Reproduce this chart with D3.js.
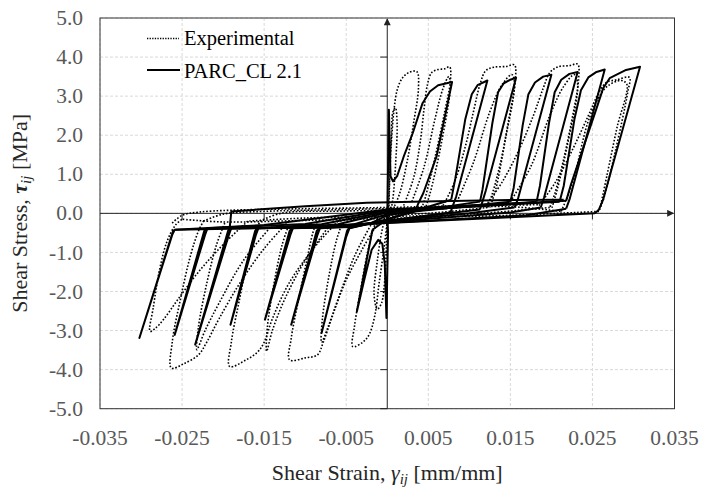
<!DOCTYPE html>
<html>
<head>
<meta charset="utf-8">
<script src="https://cdn.jsdelivr.net/npm/d3@7"></script>
<style>
  body { margin: 0; background: #fff; }
</style>
</head>
<body>
<svg id="chart" width="704" height="489" font-family="'Liberation Serif', 'Times New Roman', serif"></svg>
<script>
// axis ticks
const xTicks = [-0.035, -0.025, -0.015, -0.005, 0.005, 0.015, 0.025, 0.035];
const xTickLabels = ["-0.035", "-0.025", "-0.015", "-0.005", "0.005", "0.015", "0.025", "0.035"];
const yTicks = [-5, -4, -3, -2, -1, 0, 1, 2, 3, 4, 5];
const yTickLabels = ["-5.0", "-4.0", "-3.0", "-2.0", "-1.0", "0.0", "1.0", "2.0", "3.0", "4.0", "5.0"];

// PARC_CL 2.1 model, [strain, stress]
const modelPos = [
  [[0.0000,-0.30],[0.0002,2.65],[0.0004,0.95],[0.0007,0.82],[0.0012,0.95],[0.0020,1.45],[0.0031,2.05],[0.0043,2.82],[0.0052,3.12],[0.0062,3.28],[0.0079,3.36],[0.0060,1.45],[0.0044,0.52],[0.0038,0.26],[0.0034,0.05]],
  [[0.0078,0.35],[0.0083,0.90],[0.0095,2.40],[0.0103,3.05],[0.0110,3.28],[0.0122,3.40],[0.0084,0.43],[0.0080,0.20],[0.0077,0.02]],
  [[0.0113,0.30],[0.0116,0.60],[0.0128,2.30],[0.0135,3.10],[0.0142,3.33],[0.0150,3.42],[0.0157,3.47],[0.0120,0.58],[0.0116,0.30],[0.0113,0.10]],
  [[0.0150,0.30],[0.0154,0.65],[0.0165,2.25],[0.0172,3.05],[0.0180,3.35],[0.0190,3.50],[0.0200,3.55],[0.0159,0.35],[0.0155,0.15]],
  [[0.0182,0.30],[0.0186,0.70],[0.0197,2.30],[0.0204,3.10],[0.0212,3.42],[0.0222,3.57],[0.0232,3.62],[0.0191,0.40],[0.0187,0.15]],
  [[0.0210,0.30],[0.0215,0.70],[0.0228,2.40],[0.0236,3.15],[0.0245,3.48],[0.0255,3.62],[0.0265,3.68],[0.0222,0.35],[0.0218,0.12]],
  [[0.0218,0.32],[0.0224,0.75],[0.0256,2.75],[0.0263,3.20],[0.0271,3.46],[0.0291,3.67],[0.0308,3.75],[0.0263,0.35],[0.0258,0.10],[0.0253,0.00]]
];
const modelNeg = [
  [[0.0000,0.00],[0.0001,-0.50],[-0.0001,-2.68],[-0.0003,-1.30],[-0.0006,-0.78],[-0.0011,-0.68],[-0.0019,-0.93],[-0.0028,-1.70],[-0.0037,-2.51],[-0.0027,-1.40],[-0.0018,-0.42]],
  [[-0.0046,-0.38],[-0.0050,-0.60],[-0.0080,-3.06],[-0.0049,-0.45],[-0.0047,-0.38]],
  [[-0.0082,-0.38],[-0.0085,-0.55],[-0.0117,-2.85],[-0.0086,-0.45],[-0.0083,-0.38]],
  [[-0.0115,-0.38],[-0.0118,-0.55],[-0.0149,-2.72],[-0.0119,-0.45],[-0.0116,-0.38]],
  [[-0.0157,-0.38],[-0.0160,-0.55],[-0.0191,-2.85],[-0.0161,-0.45],[-0.0158,-0.38]],
  [[-0.0190,-0.38],[-0.0193,-0.55],[-0.0234,-3.36],[-0.0194,-0.45],[-0.0192,-0.38],[-0.0190,0.05],[-0.0100,0.18],[-0.0025,0.27],[0.0060,0.31],[0.0150,0.34],[0.0215,0.35]],
  [[-0.0219,-0.38],[-0.0222,-0.55],[-0.0259,-3.11],[-0.0223,-0.45],[-0.0220,-0.38]],
  [[-0.0258,-0.42],[-0.0261,-0.45],[-0.0302,-3.19],[-0.0262,-0.55],[-0.0259,-0.42]]
];
// reloading (rightward) and unloading (leftward) branches near zero stress
const modelReload = [
  [[-0.0047,-0.38],[-0.0020,-0.25],[0.0000,-0.05],[0.0113,0.30]],
  [[-0.0083,-0.38],[-0.0040,-0.28],[0.0000,-0.02],[0.0150,0.30]],
  [[-0.0116,-0.38],[-0.0060,-0.28],[0.0000,0.02],[0.0182,0.30]],
  [[-0.0158,-0.38],[-0.0080,-0.28],[0.0000,0.05],[0.0210,0.30]],
  [[-0.0220,-0.38],[-0.0100,-0.27],[0.0000,0.08],[0.0218,0.32]],
  [[-0.0259,-0.42],[-0.0150,-0.30],[0.0000,0.10],[0.0180,0.28]],
  [[-0.0018,-0.42],[0.0000,-0.15],[0.0078,0.35]]
];
const modelUnload = [
  [[0.0034,0.05],[0.0000,-0.15],[-0.0046,-0.38]],
  [[0.0077,0.02],[0.0000,-0.20],[-0.0040,-0.34],[-0.0082,-0.38]],
  [[0.0113,0.10],[0.0000,-0.18],[-0.0050,-0.34],[-0.0115,-0.38]],
  [[0.0155,0.15],[0.0100,0.00],[0.0000,-0.20],[-0.0060,-0.35],[-0.0157,-0.38]],
  [[0.0187,0.15],[0.0150,0.02],[0.0000,-0.22],[-0.0080,-0.36],[-0.0190,-0.38]],
  [[0.0218,0.12],[0.0170,-0.05],[0.0000,-0.24],[-0.0100,-0.37],[-0.0219,-0.38]],
  [[0.0253,0.00],[0.0150,-0.10],[0.0000,-0.25],[-0.0150,-0.38],[-0.0258,-0.42]]
];

// Experimental, [strain, stress]
const testPos = [
  [[0.0001,-0.20],[0.0003,1.00],[0.0005,2.00],[0.0007,2.60],[0.0010,2.70],[0.0012,2.30],[0.0010,1.20],[0.0007,0.40],[0.0004,0.00]],
  [[0.0002,0.10],[0.0003,0.90],[0.0005,1.80],[0.0008,2.60],[0.0012,3.15],[0.0018,3.45],[0.0026,3.60],[0.0036,3.63],[0.0038,3.20],[0.0032,2.30],[0.0024,1.30],[0.0015,0.50],[0.0008,0.15]],
  [[0.0020,0.20],[0.0032,0.90],[0.0040,1.80],[0.0045,2.70],[0.0049,3.30],[0.0054,3.60],[0.0062,3.68],[0.0070,3.70],[0.0076,3.75],[0.0077,3.40],[0.0070,2.60],[0.0060,1.60],[0.0050,0.70],[0.0043,0.20],[0.0038,0.05]],
  [[0.0030,0.30],[0.0045,1.20],[0.0058,2.40],[0.0068,3.20],[0.0075,3.50],[0.0077,3.30],[0.0066,1.80],[0.0052,0.50],[0.0046,0.10]],
  [[0.0068,0.20],[0.0082,0.80],[0.0095,1.70],[0.0105,2.60],[0.0113,3.30],[0.0120,3.65],[0.0130,3.74],[0.0145,3.76],[0.0155,3.80],[0.0156,3.40],[0.0148,2.40],[0.0138,1.30],[0.0128,0.50],[0.0122,0.15]],
  [[0.0085,0.30],[0.0105,1.30],[0.0125,2.60],[0.0140,3.30],[0.0152,3.55],[0.0155,3.30],[0.0144,1.90],[0.0132,0.60],[0.0125,0.15]],
  [[0.0120,0.20],[0.0140,0.80],[0.0160,1.60],[0.0178,2.50],[0.0190,3.20],[0.0198,3.60],[0.0208,3.75],[0.0222,3.78],[0.0232,3.82],[0.0233,3.40],[0.0225,2.40],[0.0214,1.30],[0.0204,0.50],[0.0198,0.15]],
  [[0.0150,0.30],[0.0175,1.20],[0.0198,2.50],[0.0215,3.25],[0.0228,3.55],[0.0232,3.30],[0.0220,1.80],[0.0207,0.60],[0.0200,0.10]],
  [[0.0185,0.20],[0.0205,0.80],[0.0225,1.60],[0.0245,2.50],[0.0258,3.10],[0.0267,3.35],[0.0280,3.42],[0.0295,3.48],[0.0293,3.10],[0.0278,1.60],[0.0264,0.40],[0.0258,0.05]],
  [[0.0212,0.05],[0.0226,0.80],[0.0244,2.30],[0.0256,2.90],[0.0268,3.25],[0.0285,3.40],[0.0292,3.30],[0.0280,2.20],[0.0268,1.00],[0.0260,0.20]]
];
const testNeg = [
  [[0.0000,0.00],[-0.0001,-0.80],[-0.0003,-1.70],[-0.0007,-2.30],[-0.0012,-2.45],[-0.0016,-2.10],[-0.0012,-1.20],[-0.0006,-0.40],[-0.0002,-0.10]],
  [[0.0000,-0.20],[-0.0004,-0.90],[-0.0010,-1.80],[-0.0015,-2.60],[-0.0022,-3.10],[-0.0030,-3.30],[-0.0042,-3.41],[-0.0040,-2.90],[-0.0032,-1.90],[-0.0024,-1.00],[-0.0017,-0.40],[-0.0012,-0.15]],
  [[-0.0020,-0.30],[-0.0040,-1.10],[-0.0060,-2.20],[-0.0072,-2.90],[-0.0080,-3.30],[-0.0079,-2.70],[-0.0071,-1.60],[-0.0062,-0.70],[-0.0055,-0.25]],
  [[-0.0010,-0.20],[-0.0030,-0.90],[-0.0052,-1.80],[-0.0068,-2.70],[-0.0078,-3.30],[-0.0085,-3.62],[-0.0100,-3.70],[-0.0119,-3.75],[-0.0117,-3.20],[-0.0108,-2.20],[-0.0098,-1.20],[-0.0090,-0.45],[-0.0085,-0.20]],
  [[-0.0070,-0.30],[-0.0100,-1.20],[-0.0125,-2.20],[-0.0140,-3.00],[-0.0147,-3.53],[-0.0146,-2.90],[-0.0138,-1.80],[-0.0128,-0.80],[-0.0120,-0.30]],
  [[-0.0060,-0.20],[-0.0090,-0.90],[-0.0120,-1.80],[-0.0140,-2.70],[-0.0150,-3.30],[-0.0158,-3.55],[-0.0172,-3.75],[-0.0192,-3.92],[-0.0190,-3.30],[-0.0180,-2.20],[-0.0170,-1.20],[-0.0160,-0.45],[-0.0155,-0.20]],
  [[-0.0140,-0.30],[-0.0175,-1.20],[-0.0205,-2.30],[-0.0222,-3.00],[-0.0232,-3.49],[-0.0230,-2.90],[-0.0220,-1.80],[-0.0208,-0.80],[-0.0198,-0.25]],
  [[-0.0120,-0.20],[-0.0150,-0.90],[-0.0180,-1.80],[-0.0205,-2.70],[-0.0220,-3.30],[-0.0230,-3.62],[-0.0248,-3.85],[-0.0263,-3.96],[-0.0262,-3.30],[-0.0252,-2.20],[-0.0240,-1.10],[-0.0230,-0.45],[-0.0224,-0.20]],
  [[-0.0170,-0.20],[-0.0200,-0.80],[-0.0230,-1.50],[-0.0255,-2.20],[-0.0272,-2.70],[-0.0283,-2.95],[-0.0289,-3.02],[-0.0285,-2.40],[-0.0277,-1.40],[-0.0268,-0.70],[-0.0258,-0.30],[-0.0250,-0.15]]
];
const testBand = [
  [[-0.0262,-0.25],[-0.0250,-0.05],[-0.0230,0.03],[-0.0190,0.08],[-0.0100,0.12],[0.0000,0.15],[0.0100,0.20],[0.0185,0.22]],
  [[-0.0224,-0.20],[-0.0200,-0.02],[-0.0150,0.05],[-0.0050,0.10],[0.0050,0.14],[0.0150,0.17],[0.0212,0.05]],
  [[-0.0155,-0.20],[-0.0130,0.00],[-0.0050,0.06],[0.0050,0.10],[0.0120,0.20]],
  [[0.0258,0.05],[0.0150,-0.05],[0.0050,-0.10],[0.0000,-0.13],[-0.0100,-0.18],[-0.0200,-0.22],[-0.0250,-0.15]],
  [[0.0198,0.15],[0.0100,-0.02],[0.0000,-0.08],[-0.0100,-0.12],[-0.0170,-0.20]],
  [[0.0122,0.15],[0.0050,0.00],[0.0000,-0.05],[-0.0060,-0.20]]
];

const W = 704, H = 489;
const plot = { left: 100, right: 674.5, top: 18, bottom: 408.7 };

const svg = d3.select("#chart");
const x = d3.scaleLinear().domain([-0.035, 0.035]).range([plot.left, plot.right]);
const y = d3.scaleLinear().domain([-5, 5]).range([plot.bottom, plot.top]);

const defs = svg.append("defs");
defs.append("clipPath").attr("id", "clip")
  .append("rect")
  .attr("x", plot.left).attr("y", plot.top)
  .attr("width", plot.right - plot.left).attr("height", plot.bottom - plot.top);
defs.append("marker").attr("id", "arrow")
  .attr("viewBox", "0 0 10 10").attr("refX", 9).attr("refY", 5)
  .attr("markerWidth", 8).attr("markerHeight", 7).attr("markerUnits", "userSpaceOnUse")
  .attr("orient", "auto")
  .append("path").attr("d", "M0,0 L10,5 L0,10 Z").attr("fill", "#222");

// gridlines
const grid = svg.append("g");
grid.selectAll(".gx").data(xTicks).join("line")
  .attr("x1", d => x(d)).attr("x2", d => x(d))
  .attr("y1", plot.top).attr("y2", plot.bottom)
  .attr("stroke", "#d9d9d9").attr("stroke-dasharray", "3,2");
grid.selectAll(".gy").data(yTicks).join("line")
  .attr("x1", plot.left).attr("x2", plot.right)
  .attr("y1", d => y(d)).attr("y2", d => y(d))
  .attr("stroke", "#d9d9d9").attr("stroke-dasharray", "3,2");

// frame
svg.append("rect")
  .attr("x", plot.left).attr("y", plot.top)
  .attr("width", plot.right - plot.left).attr("height", plot.bottom - plot.top)
  .attr("fill", "none").attr("stroke", "#333").attr("stroke-width", 1);

// axes through origin
const axes = svg.append("g").attr("stroke", "#222").attr("stroke-width", 1);
axes.append("line")
  .attr("x1", x(0)).attr("x2", x(0)).attr("y1", plot.bottom).attr("y2", plot.top + 1)
  .attr("marker-end", "url(#arrow)");
axes.append("line")
  .attr("x1", plot.left).attr("x2", plot.right - 1).attr("y1", y(0)).attr("y2", y(0))
  .attr("marker-end", "url(#arrow)");
axes.selectAll(".ty").data(yTicks.filter(d => d !== 0 && d !== 5)).join("line")
  .attr("x1", x(0) - 7).attr("x2", x(0)).attr("y1", d => y(d)).attr("y2", d => y(d));
axes.selectAll(".tx").data(xTicks.slice(1, -1)).join("line")
  .attr("x1", d => x(d)).attr("x2", d => x(d)).attr("y1", y(0)).attr("y2", y(0) + 6);

// tick labels
svg.selectAll(".xl").data(xTicks).join("text")
  .attr("x", d => x(d)).attr("y", 445)
  .attr("text-anchor", "middle").attr("font-size", 21.5).attr("fill", "#595959")
  .text((d, i) => xTickLabels[i]);
svg.selectAll(".yl").data(yTicks).join("text")
  .attr("x", 83).attr("y", d => y(d)).attr("dy", "0.33em")
  .attr("text-anchor", "end").attr("font-size", 21.5).attr("fill", "#595959")
  .text((d, i) => yTickLabels[i]);

// data
const line = d3.line().x(d => x(d[0])).y(d => y(d[1]));
const smooth = d3.line().x(d => x(d[0])).y(d => y(d[1])).curve(d3.curveCatmullRom.alpha(0.5));
const data = svg.append("g").attr("clip-path", "url(#clip)");

data.selectAll(".test").data([...testBand, ...testPos, ...testNeg]).join("path")
  .attr("d", smooth).attr("fill", "none").attr("stroke", "#000")
  .attr("stroke-width", 1.6).attr("stroke-dasharray", "1.6,1.8");

data.selectAll(".model").data([...modelReload, ...modelUnload, ...modelPos, ...modelNeg]).join("path")
  .attr("d", line).attr("fill", "none").attr("stroke", "#000")
  .attr("stroke-width", 2).attr("stroke-linejoin", "round");

// legend
const legend = svg.append("g");
legend.append("line").attr("x1", 147).attr("x2", 179).attr("y1", 38.5).attr("y2", 38.5)
  .attr("stroke", "#000").attr("stroke-width", 1.5).attr("stroke-dasharray", "1.3,1.3");
legend.append("text").attr("x", 184).attr("y", 45).attr("font-size", 20.5).text("Experimental");
legend.append("line").attr("x1", 147).attr("x2", 180).attr("y1", 70).attr("y2", 70)
  .attr("stroke", "#000").attr("stroke-width", 2);
legend.append("text").attr("x", 184).attr("y", 78).attr("font-size", 20.5).text("PARC_CL 2.1");

// axis titles
const xt = svg.append("text").attr("x", (plot.left + plot.right) / 2).attr("y", 480)
  .attr("text-anchor", "middle").attr("font-size", 22).attr("fill", "#262626");
xt.append("tspan").text("Shear Strain, ");
xt.append("tspan").attr("font-style", "italic").text("γ");
xt.append("tspan").attr("font-style", "italic").attr("font-size", 15).attr("dy", 4).text("ij");
xt.append("tspan").attr("dy", -4).text(" [mm/mm]");

const yt = svg.append("text")
  .attr("transform", `translate(27,${(plot.top + plot.bottom) / 2}) rotate(-90)`)
  .attr("text-anchor", "middle").attr("font-size", 22).attr("fill", "#262626");
yt.append("tspan").text("Shear Stress, ");
yt.append("tspan").attr("font-style", "italic").attr("font-weight", "bold").text("τ");
yt.append("tspan").attr("font-style", "italic").attr("font-size", 15).attr("dy", 4).text("ij");
yt.append("tspan").attr("dy", -4).text(" [MPa]");
</script>
</body>
</html>
